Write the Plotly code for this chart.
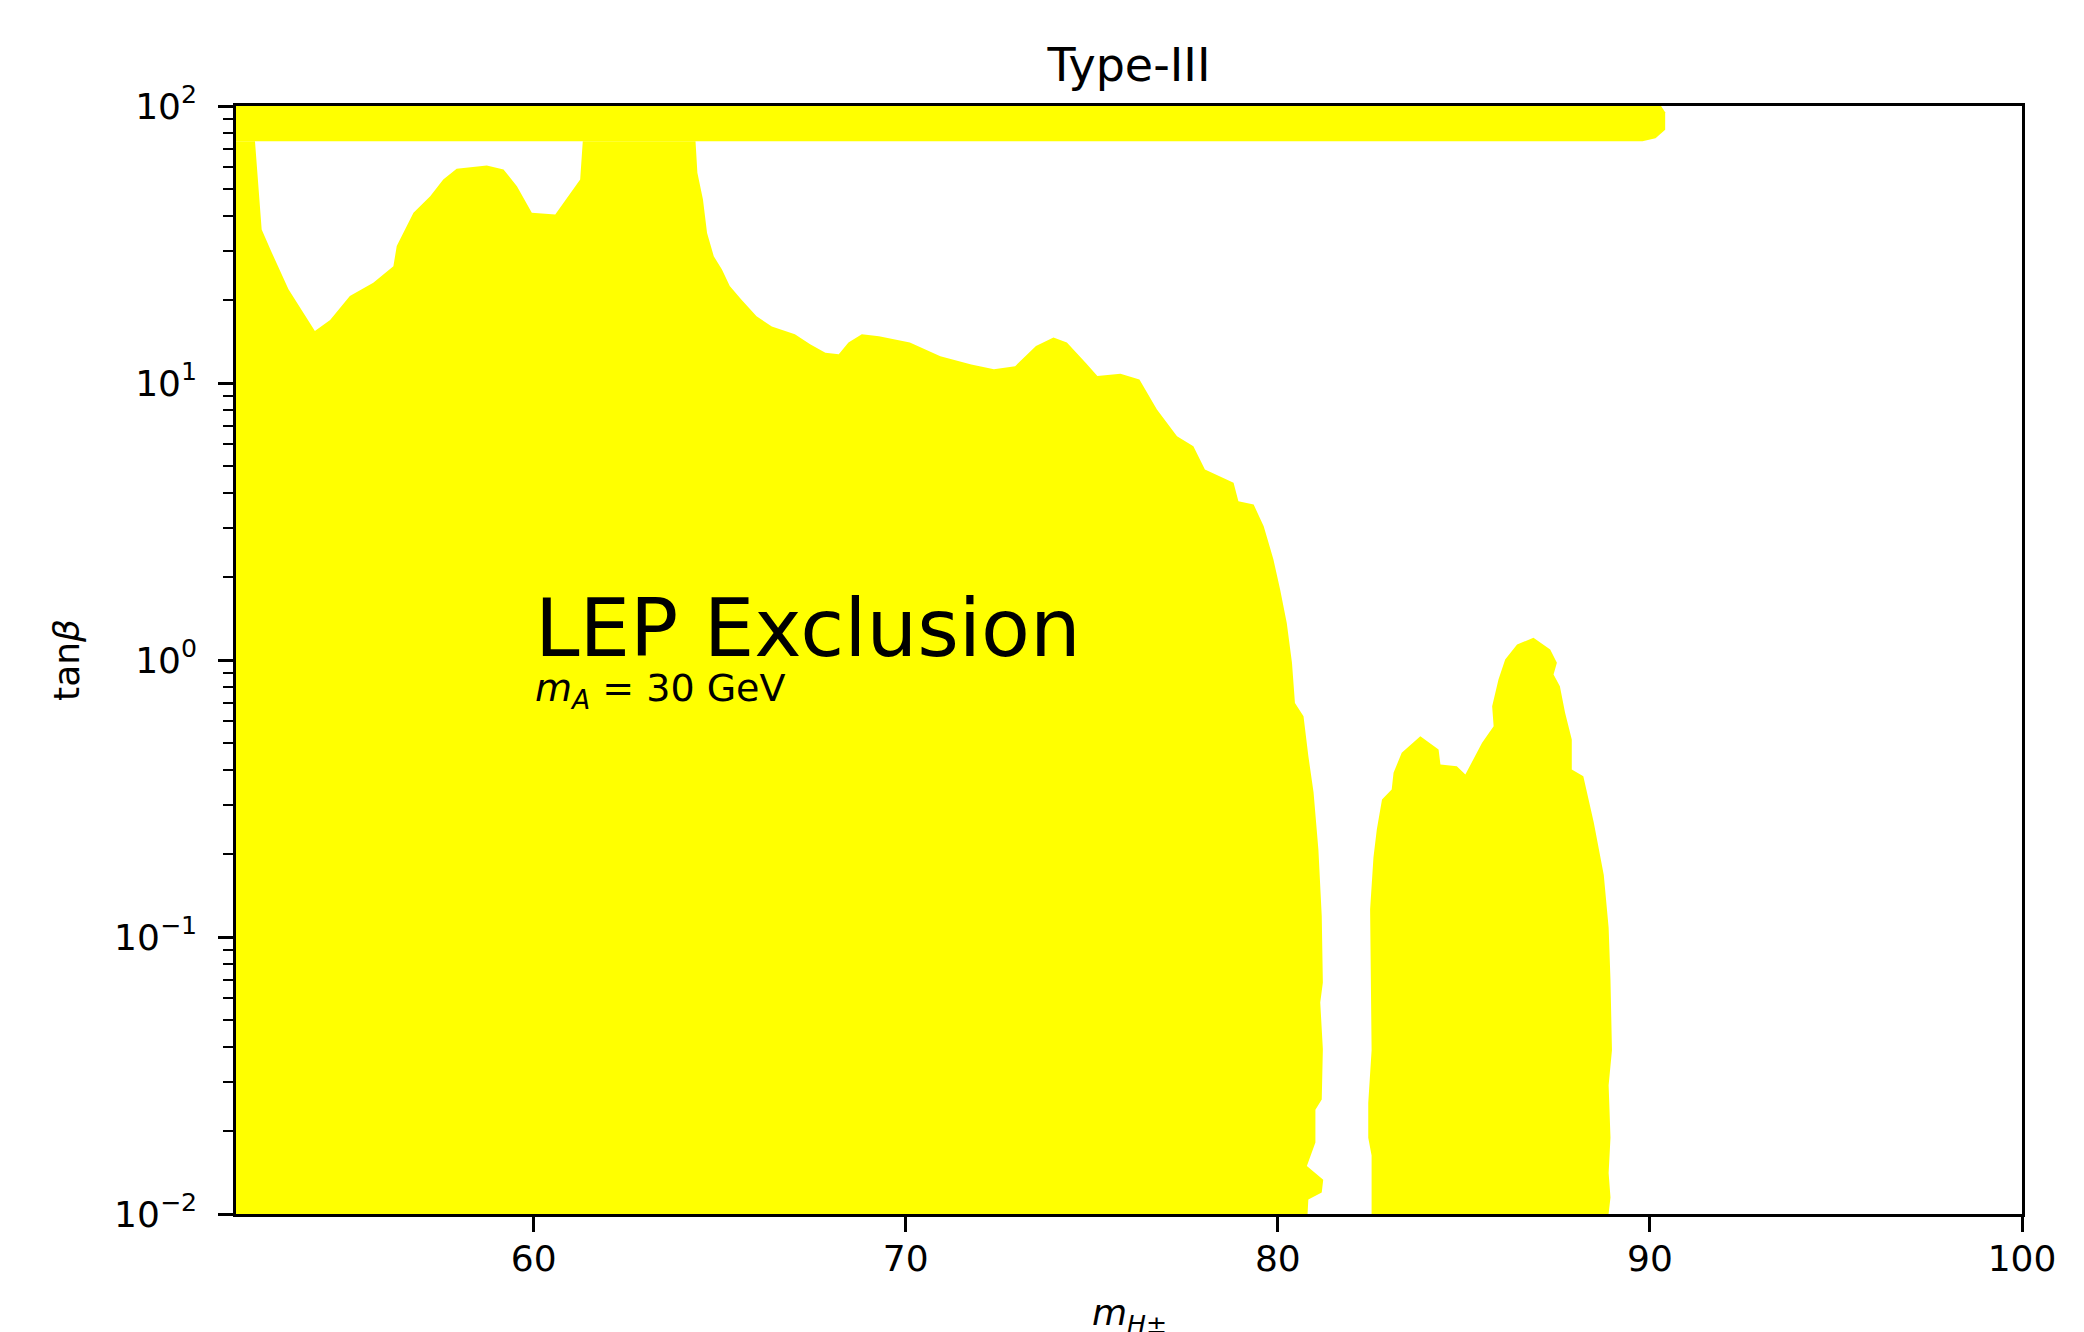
import plotly.graph_objects as go
import math

# ---- data (m_H+- in GeV, tan beta) ----
band_x = [51.5, 90.0, 90.3, 90.41, 90.41, 90.15, 89.8, 51.5]
band_y = [110, 110, 100, 95, 82, 76.5, 74.6, 74.6]

# left white gap boundary (upper edge of main yellow region, x < 61.3)
hole1_x = [52.51, 52.69, 52.96, 53.41, 54.12, 54.53, 55.06, 55.69, 56.23, 56.32,
           56.77, 57.22, 57.57, 57.93, 58.74, 59.19, 59.55, 59.95, 60.58, 60.98,
           61.25, 61.32]
hole1_y = [74.6, 35.8, 29.6, 21.8, 15.4, 16.9, 20.6, 23.0, 26.4, 31.2,
           41.2, 47.2, 54.3, 59.3, 61.0, 59.0, 51.3, 41.2, 40.6, 48.6,
           54.3, 74.6]

# upper / right edge of main yellow region, x > 64.3
edge_x = [64.35, 64.40, 64.55, 64.66, 64.84, 65.06, 65.27, 65.58, 65.99, 66.40,
          67.02, 67.43, 67.84, 68.20, 68.46, 68.82, 69.28, 70.11, 70.93, 71.76,
          72.37, 72.94, 73.50, 73.97, 74.33, 74.84, 75.15, 75.77, 76.28, 76.75,
          77.29, 77.73, 78.04, 78.81, 78.94, 79.35, 79.62, 79.88, 80.06, 80.24,
          80.38, 80.46, 80.69, 80.82, 80.96, 81.09, 81.18, 81.21, 81.14, 81.21,
          81.18, 81.01, 81.01, 80.78, 81.22, 81.18, 80.82, 80.78]
edge_y = [74.6, 57.4, 46.0, 34.8, 28.7, 25.7, 22.4, 20.0, 17.4, 16.0,
          15.0, 13.8, 12.85, 12.7, 14.0, 15.0, 14.75, 14.0, 12.5, 11.66,
          11.2, 11.5, 13.6, 14.6, 14.0, 11.8, 10.6, 10.8, 10.3, 8.02,
          6.43, 5.91, 4.87, 4.36, 3.74, 3.64, 3.04, 2.31, 1.80, 1.36,
          0.977, 0.70, 0.627, 0.45, 0.333, 0.207, 0.119, 0.0685, 0.058, 0.0393,
          0.0259, 0.0238, 0.0181, 0.0149, 0.0133, 0.01196, 0.01128, 0.009]

# second (right) yellow island
blob_x = [82.52, 82.52, 82.43, 82.43, 82.52, 82.50, 82.48, 82.57, 82.66, 82.80,
          83.06, 83.11, 83.33, 83.83, 84.32, 84.37, 84.81, 85.04, 85.26, 85.49,
          85.80, 85.76, 85.93, 86.11, 86.43, 86.87, 87.32, 87.50, 87.41, 87.58,
          87.72, 87.90, 87.90, 88.21, 88.49, 88.76, 88.89, 88.94, 88.98, 88.89,
          88.94, 88.89, 88.94, 88.85]
blob_y = [0.009, 0.01626, 0.01883, 0.02518, 0.039, 0.0699, 0.1257, 0.1936, 0.2444, 0.3136,
          0.3407, 0.3917, 0.4624, 0.531, 0.475, 0.4197, 0.4137, 0.386, 0.4375, 0.5024,
          0.5768, 0.681, 0.85, 1.005, 1.138, 1.203, 1.091, 0.977, 0.887, 0.804,
          0.645, 0.516, 0.4024, 0.3806, 0.2596, 0.1675, 0.1082, 0.0699, 0.039, 0.02915,
          0.01883, 0.01406, 0.01147, 0.009]

x_tickvals = [60, 70, 80, 90, 100]
y_tickvals = [0.01, 0.1, 1, 10, 100]
y_ticktext = ["10<sup>\u22122</sup>", "10<sup>\u22121</sup>", "10<sup>0</sup>",
              "10<sup>1</sup>", "10<sup>2</sup>"]
y_minor = [m * 10 ** e for e in range(-2, 2) for m in range(2, 10)]

YELLOW = "#ffff00"
FONT = "DejaVu Sans"

# main region outline: left spine -> gap 1 -> central column -> right edge -> bottom
main_x = [51.5, 51.5] + hole1_x + edge_x + [51.5]
main_y = [0.009, 74.6] + hole1_y + edge_y + [0.009]

fig = go.Figure()
for xs, ys in [(band_x, band_y), (main_x, main_y), (blob_x, blob_y)]:
    fig.add_trace(go.Scatter(x=xs, y=ys, mode="lines", fill="toself",
                             fillcolor=YELLOW, line=dict(width=0, color=YELLOW),
                             hoverinfo="skip", showlegend=False))

axis_common = dict(showline=True, linecolor="black", linewidth=2.5, mirror=True,
                   ticks="outside", ticklen=15, tickwidth=2.5, tickcolor="black",
                   showgrid=False, zeroline=False,
                   tickfont=dict(family=FONT, size=36, color="black"))

fig.update_xaxes(range=[52, 100], tickmode="array", tickvals=x_tickvals,
                 ticklabelstandoff=-4, **axis_common)
fig.update_yaxes(type="log", range=[-2, 2], tickmode="array", tickvals=y_tickvals,
                 ticktext=y_ticktext, ticklabelstandoff=14,
                 minor=dict(tickmode="array", tickvals=y_minor, ticks="outside",
                            ticklen=10, tickwidth=2, tickcolor="black", showgrid=False),
                 **axis_common)

fig.update_layout(
    width=2084, height=1332,
    margin=dict(l=236, r=62, t=106, b=118),
    paper_bgcolor="white", plot_bgcolor="white",
    font=dict(family=FONT, color="black"),
    title=dict(text="Type-III", x=0.5, xref="paper", xanchor="center",
               y=1 - 81 / 1332, yref="container", yanchor="bottom",
               font=dict(family=FONT, size=46, color="black")),
    annotations=[
        dict(text="LEP Exclusion", x=60, y=0.113, xref="x", yref="y",
             xanchor="left", yanchor="middle", showarrow=False, borderpad=0,
             font=dict(family=FONT, size=80, color="black")),
        dict(text="<i>m</i><sub><i>A</i></sub> = 30 GeV", x=60, y=-0.11,
             xref="x", yref="y", xanchor="left", yanchor="middle",
             showarrow=False, borderpad=0,
             font=dict(family=FONT, size=38, color="black")),
        dict(text="tan<i>\u03b2</i>", x=-0.0952, y=0.5, xref="paper", yref="paper",
             textangle=-90, xanchor="center", yanchor="middle", showarrow=False,
             font=dict(family=FONT, size=36, color="black")),
        dict(text="<i>m</i><sub><i>H</i>\u00b1</sub>", x=0.5, y=-0.092,
             xref="paper", yref="paper", xanchor="center", yanchor="middle",
             showarrow=False, font=dict(family=FONT, size=36, color="black")),
    ],
)

fig.write_html("out.html")
